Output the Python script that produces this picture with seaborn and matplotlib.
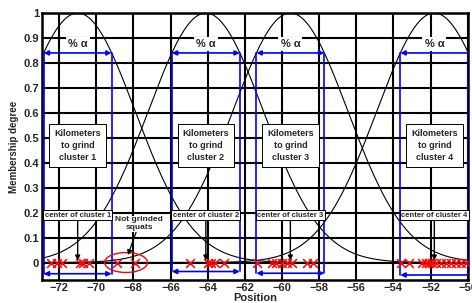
import numpy as np
import pandas as pd
import matplotlib
matplotlib.use("Agg")
import matplotlib.pyplot as plt
from matplotlib.patches import Ellipse
import seaborn as sns

# --- data ---
cluster_names = ["cluster 1", "cluster 2", "cluster 3", "cluster 4"]
centers = [-71.0, -64.1, -59.55, -51.8]
sigma = 3.1
alpha_level = 0.84
bottom_arrow_y = [-0.045, -0.036, -0.043, -0.05]
squats = [-72.45, -72.09, -71.85, -70.88, -70.69, -70.38,
          -64.97, -63.98, -63.84, -63.62, -63.14,
          -61.37, -60.56, -60.32, -60.02, -59.75, -59.48, -58.67, -58.31,
          -53.62, -53.17, -52.45, -52.27, -52.09, -51.91, -51.73, -51.46,
          -51.19, -50.92, -50.65, -50.38, -50.11]
not_grinded = [-68.9, -67.89]
x_ticks = list(range(-72, -49, 2))
y_ticks = [round(0.1 * i, 1) for i in range(11)]
xlim = (-72.92, -50.0)
ylim = (-0.07, 1.0)

sns.set_style("white")
plt.rcParams['font.family'] = ['Liberation Sans', 'DejaVu Sans']

fig = plt.figure(figsize=(4.72, 3.03), dpi=100)
ax = fig.add_axes([0.089, 0.076, 0.902, 0.881])

# --- membership curves ---
xs = np.linspace(xlim[0], xlim[1], 600)
curves = pd.concat([
    pd.DataFrame({"Position": xs,
                  "mu": np.exp(-(xs - c) ** 2 / (2 * sigma ** 2)),
                  "cluster": n})
    for c, n in zip(centers, cluster_names)
])
sns.lineplot(data=curves, x="Position", y="mu", units="cluster", estimator=None,
             color="black", linewidth=0.8, ax=ax, zorder=3)

# --- squats ---
pts = pd.DataFrame({"Position": squats + not_grinded, "mu": 0.0})
sns.scatterplot(data=pts, x="Position", y="mu", marker="x", color="red",
                s=40, linewidth=1.1, ax=ax, zorder=5)

# --- alpha cuts ---
half = sigma * np.sqrt(-2 * np.log(alpha_level))
for i, c in enumerate(centers):
    lo, hi = c - half, c + half
    style = "<|-|>" if hi < xlim[1] else "<|-"
    hi = min(hi, xlim[1])
    for xv in (lo, hi):
        ax.plot([xv, xv], [bottom_arrow_y[i], alpha_level], color="blue", lw=1.2, zorder=4)
    for yv in (alpha_level, bottom_arrow_y[i]):
        ax.annotate("", xy=(hi, yv), xytext=(lo, yv),
                    arrowprops=dict(arrowstyle=style, color="blue", lw=1.2,
                                    mutation_scale=7, shrinkA=0, shrinkB=0),
                    zorder=6)
    ax.text(c, 0.877, "% α", ha="center", va="center", fontsize=8, fontweight="bold",
            bbox=dict(facecolor="white", edgecolor="none", pad=1.5), zorder=6)
    ax.text(c, 0.47, "Kilometers\nto grind\n" + cluster_names[i], ha="center", va="center",
            fontsize=6.5, fontweight="bold", linespacing=1.45,
            bbox=dict(facecolor="white", edgecolor="black", linewidth=0.7, pad=3.5), zorder=7)
    ax.annotate("center of " + cluster_names[i], xy=(c, 0.008), xytext=(c, 0.19),
                ha="center", va="center", fontsize=5.5, fontweight="bold",
                bbox=dict(facecolor="white", edgecolor="black", linewidth=0.7, pad=1),
                arrowprops=dict(arrowstyle="-|>", color="black", lw=1.0,
                                mutation_scale=7, shrinkA=0, shrinkB=0),
                zorder=7)

# --- not grinded squats ---
ng_c = np.mean(not_grinded)
ax.add_patch(Ellipse((ng_c, 0.0), width=np.ptp(not_grinded) + 1.3, height=0.08,
                     fill=False, edgecolor="red", lw=1.0, zorder=6))
ax.annotate("Not grinded\nsquats", xy=(ng_c + 0.1, 0.03), xytext=(ng_c + 0.7, 0.155),
            ha="center", va="center", fontsize=6, fontweight="bold",
            bbox=dict(facecolor="white", edgecolor="none", pad=0.5),
            arrowprops=dict(arrowstyle="-|>", color="black", lw=0.9,
                            mutation_scale=7, shrinkA=0, shrinkB=0),
            zorder=7)

# --- axes ---
ax.set_xlim(*xlim)
ax.set_ylim(*ylim)
ax.set_xticks(x_ticks)
ax.set_yticks(y_ticks)
ax.set_yticklabels(["0"] + [f"{v:g}" for v in y_ticks[1:]])
ax.grid(True, color="black", linewidth=1.5)
ax.set_axisbelow(True)
for s in ax.spines.values():
    s.set_color("black")
    s.set_linewidth(1.8)
ax.tick_params(labelsize=8, pad=2, length=0)
for lab in ax.get_xticklabels() + ax.get_yticklabels():
    lab.set_fontweight("bold")
ax.set_xlabel("Position", fontsize=8, fontweight="bold", labelpad=0)
ax.set_ylabel("Membership degree", fontsize=7, fontweight="bold", labelpad=3)

fig.savefig("out.png", dpi=100)
